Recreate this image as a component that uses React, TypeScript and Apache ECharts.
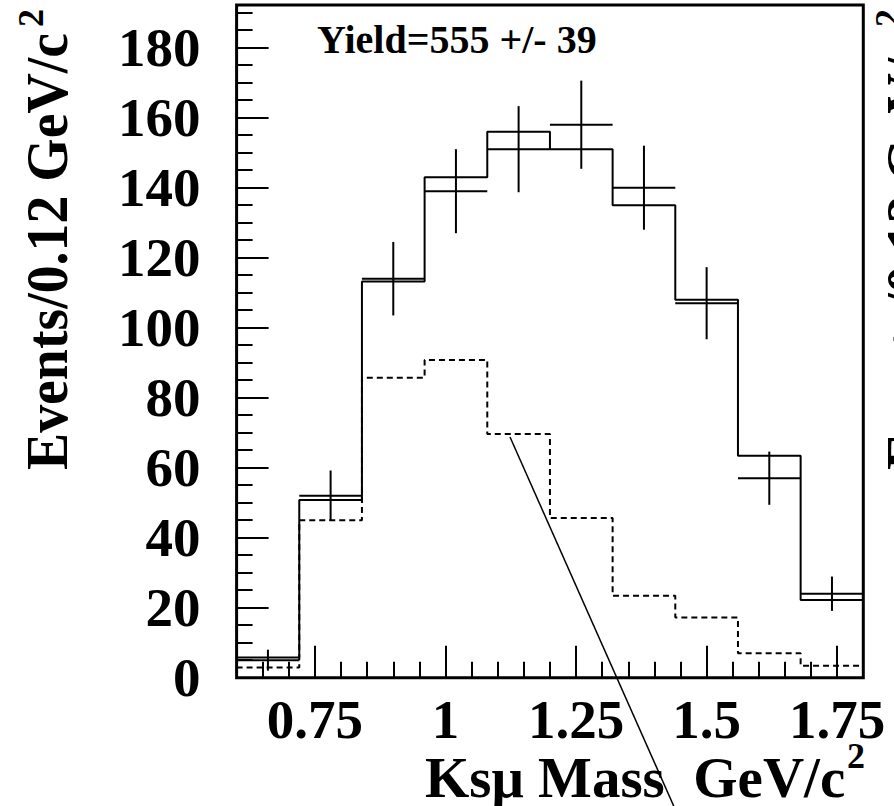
import React, { useEffect, useRef } from "react";
import * as echarts from "echarts";

// Bin edges (GeV/c^2), 0.12 GeV/c^2 wide
const binEdges = [0.6, 0.72, 0.84, 0.96, 1.08, 1.2, 1.32, 1.44, 1.56, 1.68, 1.8];
// Observed events per bin
const dataCounts = [5, 52, 114, 139, 151, 158, 140, 107, 57, 24];
const dataErrors = [3, 7.2, 10.5, 12, 12.3, 12.6, 12, 10.3, 7.6, 4.9];
// Total fit (solid histogram)
const fitTotal = [5.8, 50.8, 113.2, 143, 156, 151, 135, 108, 63.4, 22.2];
// Background component (dashed histogram)
const background = [2.9, 45, 85.7, 90.8, 69.6, 45.6, 23.4, 17.2, 7, 3.4];

const xMajorTicks = [0.75, 1, 1.25, 1.5, 1.75];
const xMinorTicks = [0.65, 0.7, 0.8, 0.85, 0.9, 0.95, 1.05, 1.1, 1.15, 1.2, 1.3, 1.35, 1.4, 1.45, 1.55, 1.6, 1.65, 1.7];
const yMajorTicks = [0, 20, 40, 60, 80, 100, 120, 140, 160, 180];
const yMinorTicks = [5, 10, 15, 25, 30, 35, 45, 50, 55, 65, 70, 75, 85, 90, 95, 105, 110, 115, 125, 130, 135, 145, 150, 155, 165, 170, 175, 185, 190];

const yieldText = "Yield=555 +/- 39";
const xTitle = "Ksμ Mass  GeV/c";
const yTitle = "Events/0.12 GeV/c";
const superTwo = "2";

const FONT = '"Liberation Serif", "Times New Roman", serif';

function stepPoints(values: number[]) {
  const pts: number[][] = values.map((v, i) => [binEdges[i], v]);
  pts.push([binEdges[binEdges.length - 1], values[values.length - 1]]);
  return pts;
}

function txt(x: number, y: number, text: string, size: number, extra: any = {}) {
  return {
    type: "text",
    x,
    y,
    ...extra,
    style: {
      text,
      fontFamily: FONT,
      fontWeight: "bold",
      fontSize: size,
      fill: "#000",
      textAlign: "left",
      textVerticalAlign: "middle",
    },
  };
}

export default function App() {
  const ref = useRef<HTMLDivElement>(null);
  useEffect(() => {
    if (!ref.current) return;
    const chart = echarts.init(ref.current, null, { renderer: "svg" });
    const errData = dataCounts.map((v, i) => [
      (binEdges[i] + binEdges[i + 1]) / 2,
      v,
      dataErrors[i],
      binEdges[i],
      binEdges[i + 1],
    ]);
    const labelStyle = {
      color: "#000",
      fontFamily: FONT,
      fontWeight: "bold",
      fontSize: 55,
    };
    const tickLine = { color: "#000", width: 2 };
    const option: any = {
      animation: false,
      grid: {
        left: 236.6,
        right: 30.7,
        top: 5,
        bottom: 128.3,
        show: true,
        borderColor: "#000",
        borderWidth: 3,
        backgroundColor: "transparent",
      },
      xAxis: [
        {
          type: "value",
          min: 0.6,
          max: 1.8,
          position: "bottom",
          axisLine: { show: false },
          splitLine: { show: false },
          axisTick: { show: true, inside: true, length: 32, customValues: xMajorTicks, lineStyle: tickLine },
          axisLabel: {
            ...labelStyle,
            margin: 14,
            customValues: xMajorTicks,
            formatter: (v: number) => String(v),
          },
        },
        {
          type: "value",
          min: 0.6,
          max: 1.8,
          position: "bottom",
          axisLine: { show: false },
          splitLine: { show: false },
          axisTick: { show: true, inside: true, length: 16, customValues: xMinorTicks, lineStyle: tickLine },
          axisLabel: { show: false },
        },
      ],
      yAxis: [
        {
          type: "value",
          min: 0,
          max: 192.2,
          position: "left",
          axisLine: { show: false },
          splitLine: { show: false },
          axisTick: { show: true, inside: true, length: 32, customValues: yMajorTicks, lineStyle: tickLine },
          axisLabel: { ...labelStyle, margin: 36, customValues: yMajorTicks },
        },
        {
          type: "value",
          min: 0,
          max: 192.2,
          position: "left",
          axisLine: { show: false },
          splitLine: { show: false },
          axisTick: { show: true, inside: true, length: 16, customValues: yMinorTicks, lineStyle: tickLine },
          axisLabel: { show: false },
        },
      ],
      series: [
        {
          name: "background",
          type: "line",
          step: "end",
          symbol: "none",
          xAxisIndex: 0,
          yAxisIndex: 0,
          data: stepPoints(background),
          lineStyle: { color: "#000", width: 2, type: [6, 4] },
          z: 2,
        },
        {
          name: "fit",
          type: "line",
          step: "end",
          symbol: "none",
          xAxisIndex: 0,
          yAxisIndex: 0,
          data: stepPoints(fitTotal),
          lineStyle: { color: "#000", width: 2 },
          z: 3,
        },
        {
          name: "data",
          type: "custom",
          xAxisIndex: 0,
          yAxisIndex: 0,
          data: errData,
          z: 4,
          renderItem: (params: any, api: any) => {
            const x = api.value(0);
            const y = api.value(1);
            const e = api.value(2);
            const lo = api.value(3);
            const hi = api.value(4);
            const pL = api.coord([lo, y]);
            const pR = api.coord([hi, y]);
            const pT = api.coord([x, y + e]);
            const pB = api.coord([x, y - e]);
            const st = { stroke: "#000", lineWidth: 2 };
            return {
              type: "group",
              children: [
                { type: "line", shape: { x1: pL[0], y1: pL[1], x2: pR[0], y2: pR[1] }, style: st },
                { type: "line", shape: { x1: pT[0], y1: pT[1], x2: pB[0], y2: pB[1] }, style: st },
              ],
            };
          },
        },
      ],
      graphic: [
        txt(317, 39.5, yieldText, 40),
        txt(425, 777, xTitle, 57),
        txt(847, 756, superTwo, 36),
        // y-axis title (rotated, reading upward)
        txt(47, 470, yTitle, 60, { rotation: Math.PI / 2, scaleX: 0.93 }),
        txt(31, 27, superTwo, 36, { rotation: Math.PI / 2 }),
        // neighbouring panel's y title, clipped by the page edge
        txt(907, 470, yTitle, 60, { rotation: Math.PI / 2, scaleX: 0.93 }),
        txt(888, 27, superTwo, 36, { rotation: Math.PI / 2 }),
        {
          type: "line",
          shape: { x1: 510, y1: 437, x2: 675.5, y2: 810 },
          style: { stroke: "#000", lineWidth: 1.5 },
          z: 10,
        },
      ],
    };
    chart.setOption(option);
    return () => chart.dispose();
  }, []);
  return (
    <div
      ref={ref}
      style={{ position: "fixed", left: 0, top: 0, width: 894, height: 806, background: "#fff" }}
    />
  );
}
